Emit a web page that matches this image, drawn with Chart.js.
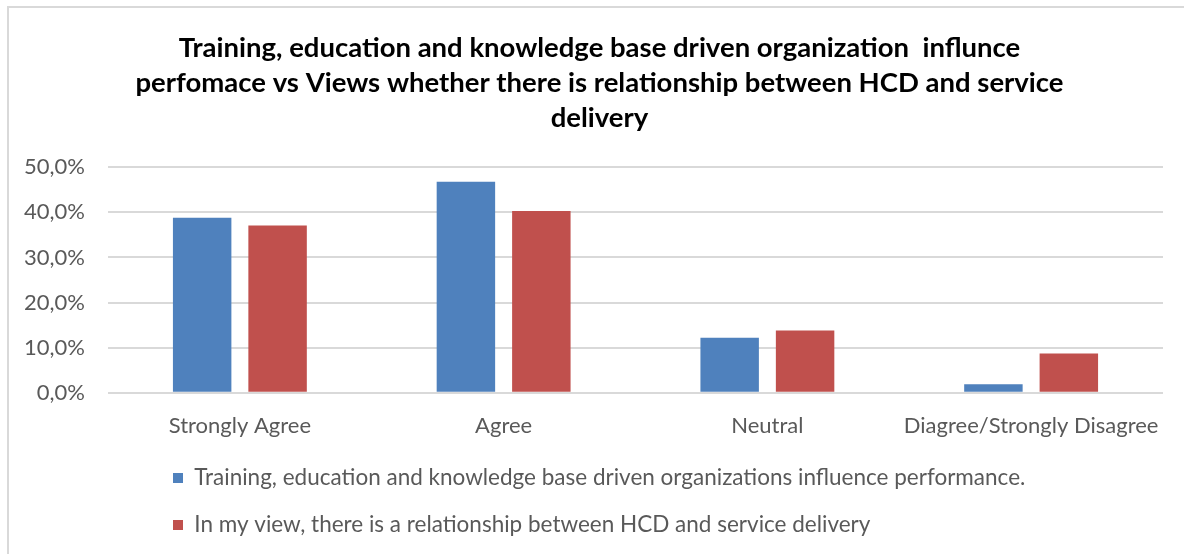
<!DOCTYPE html>
<html>
<head>
<meta charset="utf-8">
<script src="https://cdn.jsdelivr.net/npm/chart.js@4"></script>
<style>
    html, body { margin: 0; padding: 0; background: #fff; overflow: hidden; }
    .frame {
        position: absolute; left: 7px; top: 6px;
        width: 1400px; height: 800px;
        border: 2px solid #d9d9d9;
    }
    .chart-box { position: absolute; left: 0; top: 0; width: 1184px; height: 554px; }
</style>
</head>
<body>
<div class="frame"></div>
<div class="chart-box"><canvas id="hcdChart"></canvas></div>
<script>
(function (window) {
    'use strict';

    var categories = ['Strongly Agree', 'Agree', 'Neutral', 'Diagree/Strongly Disagree'];
    var trainingValues = [38.8, 46.8, 12.2, 1.9];
    var relationshipValues = [37.1, 40.3, 13.8, 8.7];
    var seriesLabels = [
        'Training, education and knowledge base driven organizations influence performance.',
        'In my view, there is a relationship between HCD and service delivery'
    ];
    var titleLines = [
        'Training, education and knowledge base driven organization  influnce',
        'perfomace vs Views whether there is relationship between HCD and service',
        'delivery'
    ];

    var textColor = '#595959';
    var gridColor = '#d9d9d9';
    var percentFormatter = new Intl.NumberFormat('de-DE', {
        minimumFractionDigits: 1,
        maximumFractionDigits: 1
    });

    // legend rows start indented, title sits a bit right of the canvas centre
    var boxOffsets = {
        id: 'boxOffsets',
        afterLayout: function (chart) {
            var legend = chart.legend;
            if (legend) {
                legend.left = 173 - legend.options.labels.padding;
            }
            if (chart.titleBlock) {
                chart.titleBlock.left += 7;
                chart.titleBlock.right += 7;
            }
        }
    };

    new Chart(document.getElementById('hcdChart'), {
        type: 'bar',
        data: {
            labels: categories,
            datasets: [{
                label: seriesLabels[0],
                data: trainingValues,
                backgroundColor: '#4f81bd',
                categoryPercentage: 0.572,
                barPercentage: 0.775
            }, {
                label: seriesLabels[1],
                data: relationshipValues,
                backgroundColor: '#c0504d',
                categoryPercentage: 0.572,
                barPercentage: 0.775
            }]
        },
        plugins: [boxOffsets],
        options: {
            responsive: true,
            maintainAspectRatio: false,
            animation: false,
            layout: {
                padding: { left: 22, right: 21, top: 0, bottom: 7.75 }
            },
            plugins: {
                title: {
                    display: true,
                    text: titleLines,
                    color: '#000',
                    font: { family: 'Lato', size: 27.5, weight: 'bold', lineHeight: 1.27 },
                    padding: { top: 31, bottom: 31.5 }
                },
                legend: {
                    position: 'bottom',
                    align: 'start',
                    labels: {
                        color: textColor,
                        font: { family: 'Lato', size: 22.5 },
                        boxWidth: 10,
                        boxHeight: 10,
                        padding: 24.5
                    }
                },
                tooltip: { enabled: false }
            },
            scales: {
                x: {
                    grid: { display: false },
                    border: { display: false },
                    ticks: {
                        color: textColor,
                        font: { family: 'Lato', size: 22 },
                        padding: 12
                    },
                    afterFit: function (scale) { scale.height = 49.5; }
                },
                y: {
                    min: 0,
                    max: 50,
                    grid: { color: gridColor, lineWidth: 2, drawTicks: false },
                    border: { display: false },
                    ticks: {
                        stepSize: 10,
                        color: textColor,
                        font: { family: 'Lato', size: 22 },
                        padding: 23,
                        callback: function (value) {
                            return percentFormatter.format(value) + '%';
                        }
                    },
                    afterFit: function (scale) { scale.width = 86; }
                }
            }
        }
    });
})(window);
</script>
</body>
</html>
